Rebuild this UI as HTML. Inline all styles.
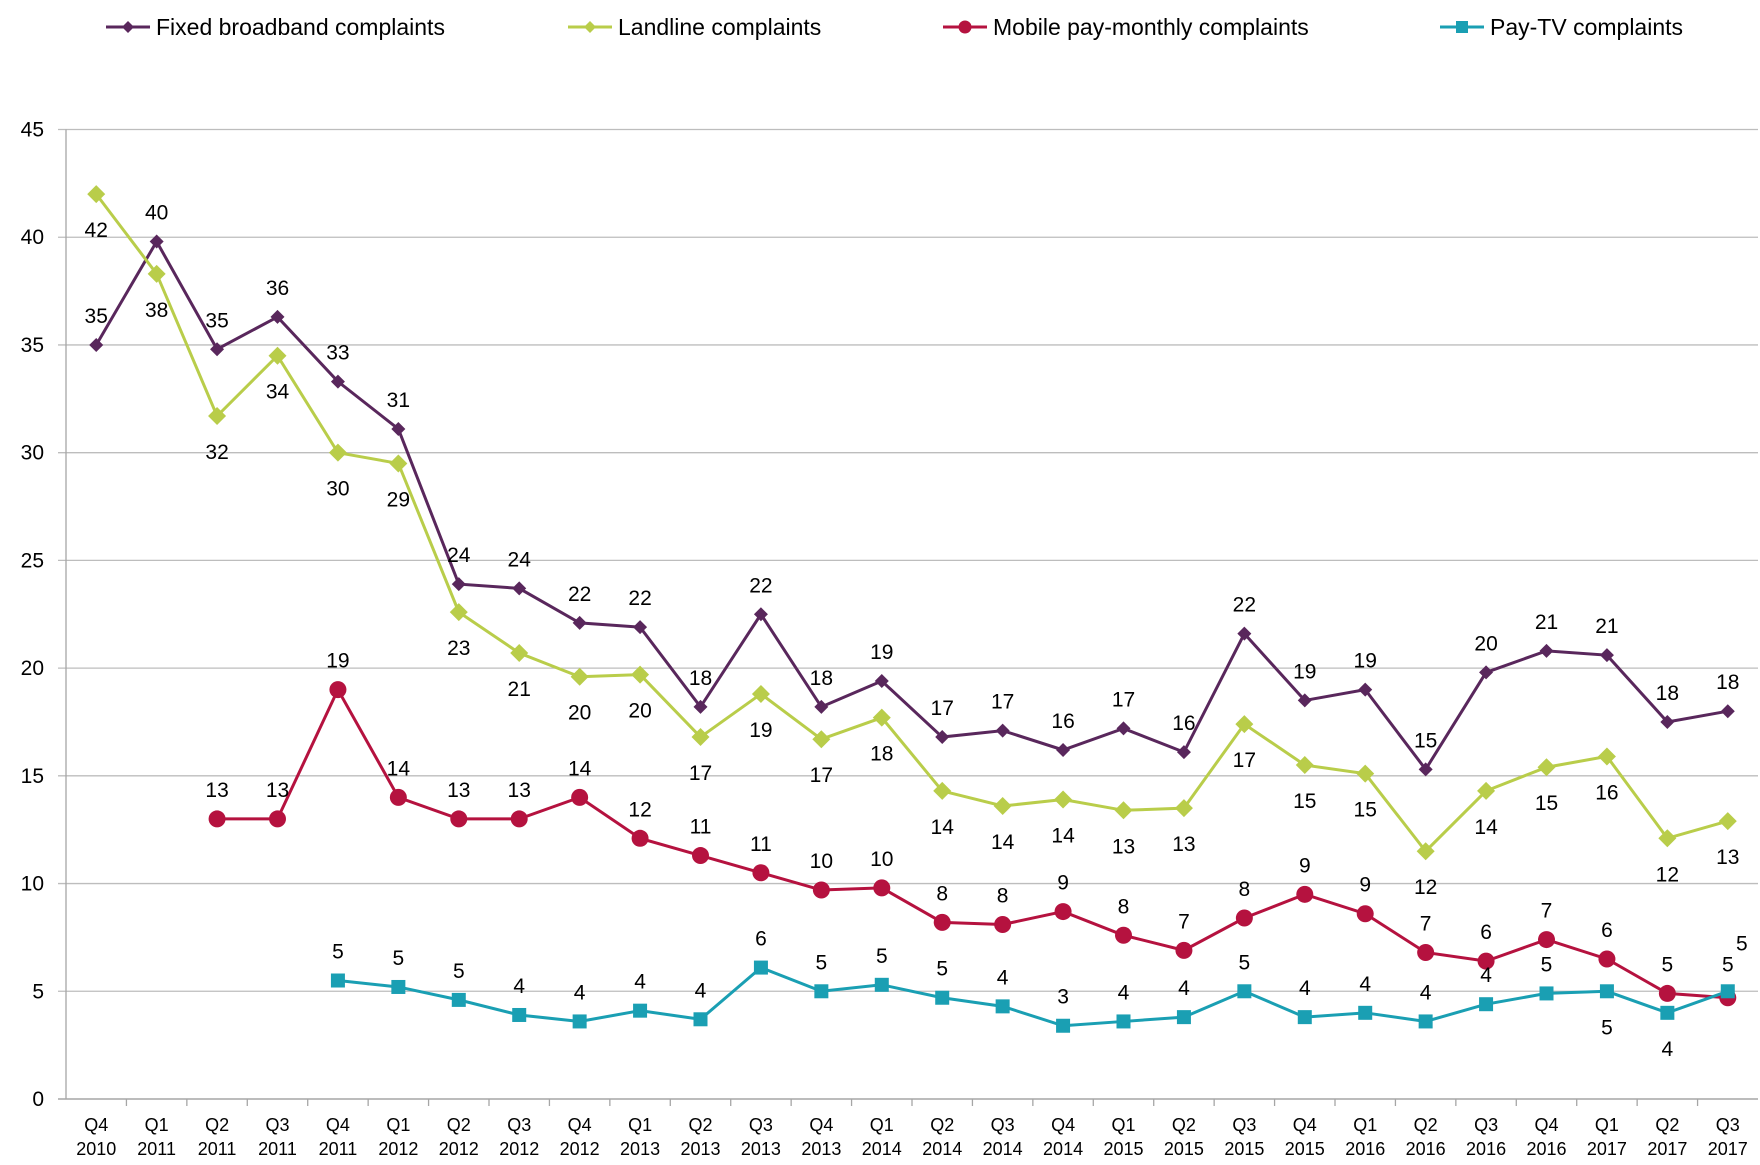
<!DOCTYPE html>
<html><head><meta charset="utf-8">
<style>
html,body{margin:0;padding:0;background:#fff;}
svg{display:block;font-family:"Liberation Sans",sans-serif;}
</style></head>
<body>
<svg id="chart" width="1760" height="1165" viewBox="0 0 1760 1165" xmlns="http://www.w3.org/2000/svg">
<g id="legend"></g>
<g id="grid"></g>
<g id="axes"></g>
<g id="series"></g>
</svg>
<script>
const categories = ["Q4 2010","Q1 2011","Q2 2011","Q3 2011","Q4 2011","Q1 2012","Q2 2012","Q3 2012","Q4 2012","Q1 2013","Q2 2013","Q3 2013","Q4 2013","Q1 2014","Q2 2014","Q3 2014","Q4 2014","Q1 2015","Q2 2015","Q3 2015","Q4 2015","Q1 2016","Q2 2016","Q3 2016","Q4 2016","Q1 2017","Q2 2017","Q3 2017"];
const fixedBroadband = [35.0,39.8,34.8,36.3,33.3,31.1,23.9,23.7,22.1,21.9,18.2,22.5,18.2,19.4,16.8,17.1,16.2,17.2,16.1,21.6,18.5,19.0,15.3,19.8,20.8,20.6,17.5,18.0];
const landline = [42.0,38.3,31.7,34.5,30.0,29.5,22.6,20.7,19.6,19.7,16.8,18.8,16.7,17.7,14.3,13.6,13.9,13.4,13.5,17.4,15.5,15.1,11.5,14.3,15.4,15.9,12.1,12.9];
const mobilePayMonthly = [null,null,13,13,19,14,13,13,14,12.1,11.3,10.5,9.7,9.8,8.2,8.1,8.7,7.6,6.9,8.4,9.5,8.6,6.8,6.4,7.4,6.5,4.9,4.7];
const payTV = [null,null,null,null,5.5,5.2,4.6,3.9,3.6,4.1,3.7,6.1,5.0,5.3,4.7,4.3,3.4,3.6,3.8,5.0,3.8,4.0,3.6,4.4,4.9,5.0,4.0,5.0];
const fixedLabels = [35,40,35,36,33,31,24,24,22,22,18,22,18,19,17,17,16,17,16,22,19,19,15,20,21,21,18,18];
const landlineLabels = [42,38,32,34,30,29,23,21,20,20,17,19,17,18,14,14,14,13,13,17,15,15,12,14,15,16,12,13];
const mobileLabels = [null,null,13,13,19,14,13,13,14,12,11,11,10,10,8,8,9,8,7,8,9,9,7,6,7,6,5,5];
const payTVLabels = [null,null,null,null,5,5,5,4,4,4,4,6,5,5,5,4,3,4,4,5,4,4,4,4,5,5,4,5];
const landlineLabelBelow = [1,1,1,1,1,1,1,1,1,1,1,1,1,1,1,1,1,1,1,1,1,1,1,1,1,1,1,1];
const payTVLabelBelow = [0,0,0,0,0,0,0,0,0,0,0,0,0,0,0,0,0,0,0,0,0,0,0,0,0,1,1,0];
const yTicks = [0,5,10,15,20,25,30,35,40,45];

const NS="http://www.w3.org/2000/svg";
const L=66, R=1758, T=129.5, B=1099, YMAX=45;
const step=(R-L)/categories.length;
const xs=i=>L+step*(i+0.5);
const ys=v=>B-(v/YMAX)*(B-T);
function mk(tag,attrs,parent){const e=document.createElementNS(NS,tag);for(const k in attrs)e.setAttribute(k,attrs[k]);parent.appendChild(e);return e;}

const grid=document.getElementById('grid'), axes=document.getElementById('axes'), ser=document.getElementById('series'), leg=document.getElementById('legend');
yTicks.forEach(t=>{
  const y=ys(t);
  if(t>0){const g=mk('line',{x1:L-8,x2:R,y1:y,y2:y,stroke:'#bdbdbd','stroke-width':1.3},grid);
  
  }
  const tx=mk('text',{x:L-22,y:y+7,'text-anchor':'end','font-size':21,fill:'#000'},axes);
  tx.textContent=t;
  
  
});
const ax=mk('line',{x1:L,x2:L,y1:T,y2:B,stroke:'#a6a6a6','stroke-width':1.3},axes);


const bx=mk('line',{x1:L-8,x2:R,y1:B,y2:B,stroke:'#a6a6a6','stroke-width':1.5},axes);


categories.forEach((c,i)=>{
  const x0=L+step*i;
  if(i>0){const tk=mk('line',{x1:x0,x2:x0,y1:B,y2:B+7,stroke:'#a6a6a6','stroke-width':1.3},axes);
  
  }
  const p=c.split(' ');
  const t=mk('text',{x:xs(i),'text-anchor':'middle','font-size':18,fill:'#000'},axes);
  
  
  const a=mk('tspan',{x:xs(i),y:B+32},t);a.textContent=p[0];
  const b=mk('tspan',{x:xs(i),y:B+56},t);b.textContent=p[1];
});

function marker(type,x,y,color,parent,s){
  let m;
  if(type==='diamond'){m=mk('polygon',{points:`${x},${y-s} ${x+s},${y} ${x},${y+s} ${x-s},${y}`,fill:color},parent);}
  else if(type==='circle'){m=mk('circle',{cx:x,cy:y,r:s,fill:color},parent);}
  else {m=mk('rect',{x:x-s,y:y-s,width:2*s,height:2*s,fill:color},parent);}
  return m;
}
const seriesDefs=[
  {name:'fixed-broadband',label:'Fixed broadband complaints',data:fixedBroadband,labels:fixedLabels,color:'#59275c',type:'diamond',size:7,below:null,lx:106},
  {name:'landline',label:'Landline complaints',data:landline,labels:landlineLabels,color:'#b9cd4a',type:'diamond',size:9,below:landlineLabelBelow,lx:568},
  {name:'mobile-pay-monthly',label:'Mobile pay-monthly complaints',data:mobilePayMonthly,labels:mobileLabels,color:'#b5123f',type:'circle',size:8.5,below:null,lx:943},
  {name:'pay-tv',label:'Pay-TV complaints',data:payTV,labels:payTVLabels,color:'#1a9fb3',type:'square',size:7,below:payTVLabelBelow,lx:1440}
];
seriesDefs.forEach(sd=>{
  const g=mk('g',{},ser);
  
  
  let d='';
  sd.data.forEach((v,i)=>{if(v==null)return;d+=(d?'L':'M')+xs(i)+','+ys(v);});
  const pth=mk('path',{d:d,fill:'none',stroke:sd.color,'stroke-width':3},g);
  
  
  const last=sd.data.length-1;
  sd.data.forEach((v,i)=>{
    if(v==null)return;
    const m=marker(sd.type,xs(i),ys(v),sd.color,g,sd.size);
    
    
    const below=sd.below&&sd.below[i];
    let lx=xs(i), ly=ys(v)+(below?43:-22);
    if(sd.name==='pay-tv'&&i===last){lx+=14;ly=ys(v)-41;}
    if(sd.name==='mobile-pay-monthly'&&i===last){ly=ys(v)-26;}
    const t=mk('text',{x:lx,y:ly,'text-anchor':'middle','font-size':21,fill:'#000'},g);
    t.textContent=sd.labels[i];
    
    
  });
  const lg=mk('g',{},leg);
  
  
  const x1=sd.lx, x2=sd.lx+44, y=27;
  mk('line',{x1:x1,x2:x2,y1:y,y2:y,stroke:sd.color,'stroke-width':3},lg);
  marker(sd.type,(x1+x2)/2,y,sd.color,lg,sd.type==='circle'?6.5:6);
  const lt=mk('text',{x:x2+6,y:y+8,'font-size':23,fill:'#000'},lg);
  lt.textContent=sd.label;
});
</script>
</body></html>
